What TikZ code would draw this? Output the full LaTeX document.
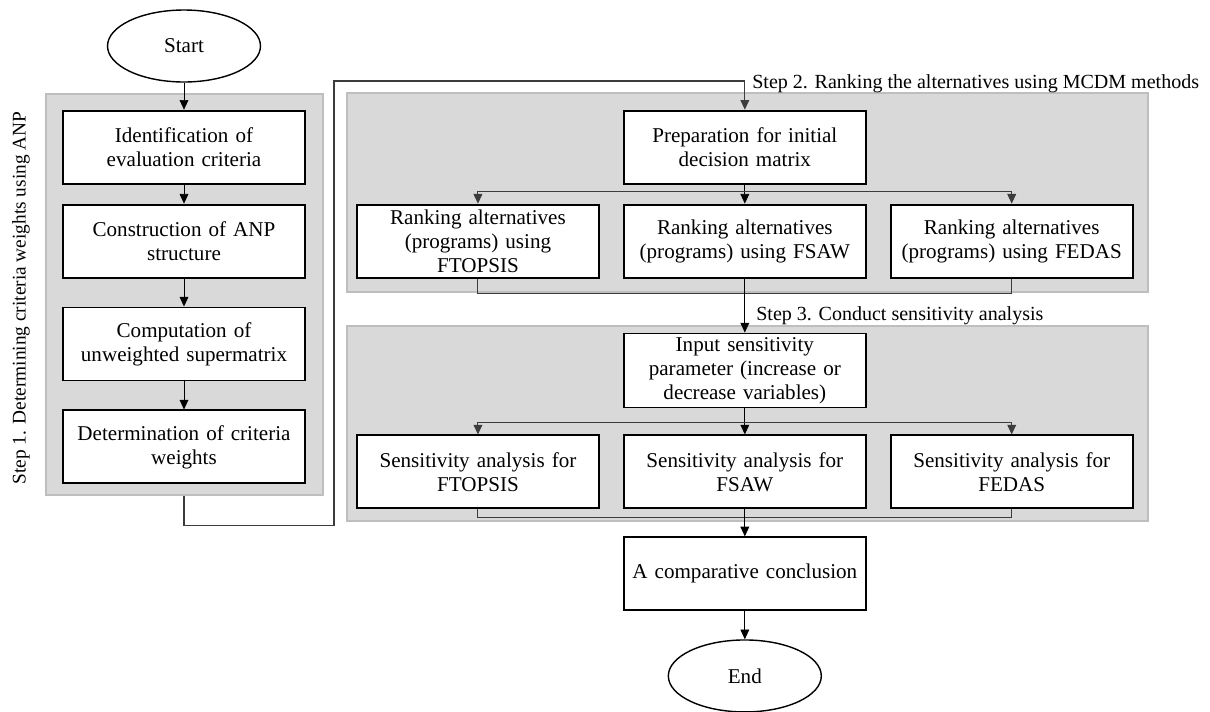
\documentclass[tikz,border=0pt]{standalone}
\usepackage{fontspec}
\setmainfont{Liberation Serif}
\usetikzlibrary{arrows.meta, positioning, shapes.geometric, fit, backgrounds}
\definecolor{PanelGray}{RGB}{217, 217, 217}
\definecolor{PanelEdge}{RGB}{190, 190, 190}
\definecolor{LineGray}{RGB}{60, 60, 60}

\begin{document}
\begin{tikzpicture}[x=0.02cm, y=-0.02cm, >={Triangle[width=5pt,length=5.5pt]},
    every node/.style={font=\fontsize{12}{13.7}\selectfont},
    stepbox/.style={draw, line width=1.1pt, fill=white, minimum width=4.84cm, minimum height=1.46cm, text width=4.7cm, align=center, inner sep=0pt},
    term/.style={draw, ellipse, line width=0.8pt, fill=white, minimum width=3.06cm, minimum height=1.44cm},
    panel/.style={fill=PanelGray, draw=PanelEdge, line width=0.6pt, inner sep=0pt},
    steplabel/.style={font=\fontsize{11.4}{13}\selectfont, inner sep=0pt},
    link/.style={draw=LineGray, line width=0.6pt}]
    \useasboundingbox (0,0) rectangle (1210,711);

    % step 1 column
    \node[term] (start) at (184,46) {Start};
    \node[stepbox, below=0.54cm of start] (idc) {Identification of\\evaluation criteria};
    \node[stepbox, below=0.38cm of idc] (anp) {Construction of ANP\\structure};
    \node[stepbox, below=0.56cm of anp] (usm) {Computation of\\unweighted supermatrix};
    \node[stepbox, below=0.56cm of usm] (cw) {Determination of criteria\\weights};

    % step 2 row
    \node[stepbox, right=6.34cm of idc] (prep) {Preparation for initial\\decision matrix};
    \node[stepbox, below=0.38cm of prep] (rsaw) {Ranking alternatives\\(programs) using FSAW};
    \node[stepbox, left=0.46cm of rsaw] (rtop) {Ranking alternatives\\(programs) using\\FTOPSIS};
    \node[stepbox, right=0.46cm of rsaw] (redas) {Ranking alternatives\\(programs) using FEDAS};

    % step 3 row
    \node[stepbox, minimum height=1.48cm, below=1.08cm of rsaw] (inp) {Input sensitivity\\parameter (increase or\\decrease variables)};
    \node[stepbox, below=0.52cm of inp] (ssaw) {Sensitivity analysis for\\FSAW};
    \node[stepbox, left=0.46cm of ssaw] (stop) {Sensitivity analysis for\\FTOPSIS};
    \node[stepbox, right=0.46cm of ssaw] (sedas) {Sensitivity analysis for\\FEDAS};

    \node[stepbox, below=0.54cm of ssaw] (conc) {A comparative conclusion};
    \node[term, below=0.56cm of conc] (finish) {End};

    % labels of the steps
    \node[steplabel, font=\fontsize{11}{13}\selectfont, rotate=90] (lbl1) at (21,298) {Step 1. Determining criteria weights using ANP};
    \node[steplabel, anchor=base west] (lbl2) at (752,88) {Step 2. Ranking the alternatives using MCDM methods};
    \node[steplabel, anchor=base west] (lbl3) at (756,320) {Step 3. Conduct sensitivity analysis};

    \begin{scope}[on background layer]
        \node[panel, fit={(46,94) (323,495)}] (panelA) {};
        \node[panel, fit={(347,93) (1148,292)}] (panelB) {};
        \node[panel, fit={(347,326) (1148,521)}] (panelC) {};
    \end{scope}

    \draw[->] (start) -- (idc);
    \draw[->] (idc) -- (anp);
    \draw[->] (anp) -- (usm);
    \draw[->] (usm) -- (cw);

    \coordinate (bend) at (334,81);
    \draw[link, ->] (panelA.south -| cw.south) -- ++(0,30) -| (bend) -| (prep.north);

    \draw[->] (prep) -- (rsaw);
    \draw[link, ->] (prep.south) ++(0,7) -| (rtop.north);
    \draw[link, ->] (prep.south) ++(0,7) -| (redas.north);
    \draw[link] (rtop.south) -- ++(0,15) -| (redas.south);
    \draw[->] (rsaw) -- (inp);

    \draw[->] (inp) -- (ssaw);
    \draw[link, ->] (inp.south) ++(0,14) -| (stop.north);
    \draw[link, ->] (inp.south) ++(0,14) -| (sedas.north);
    \draw[link] (stop.south) -- ++(0,8) -| (sedas.south);
    \draw[->] (ssaw) -- (conc);
    \draw[->] (conc) -- (finish);
\end{tikzpicture}
\end{document}
